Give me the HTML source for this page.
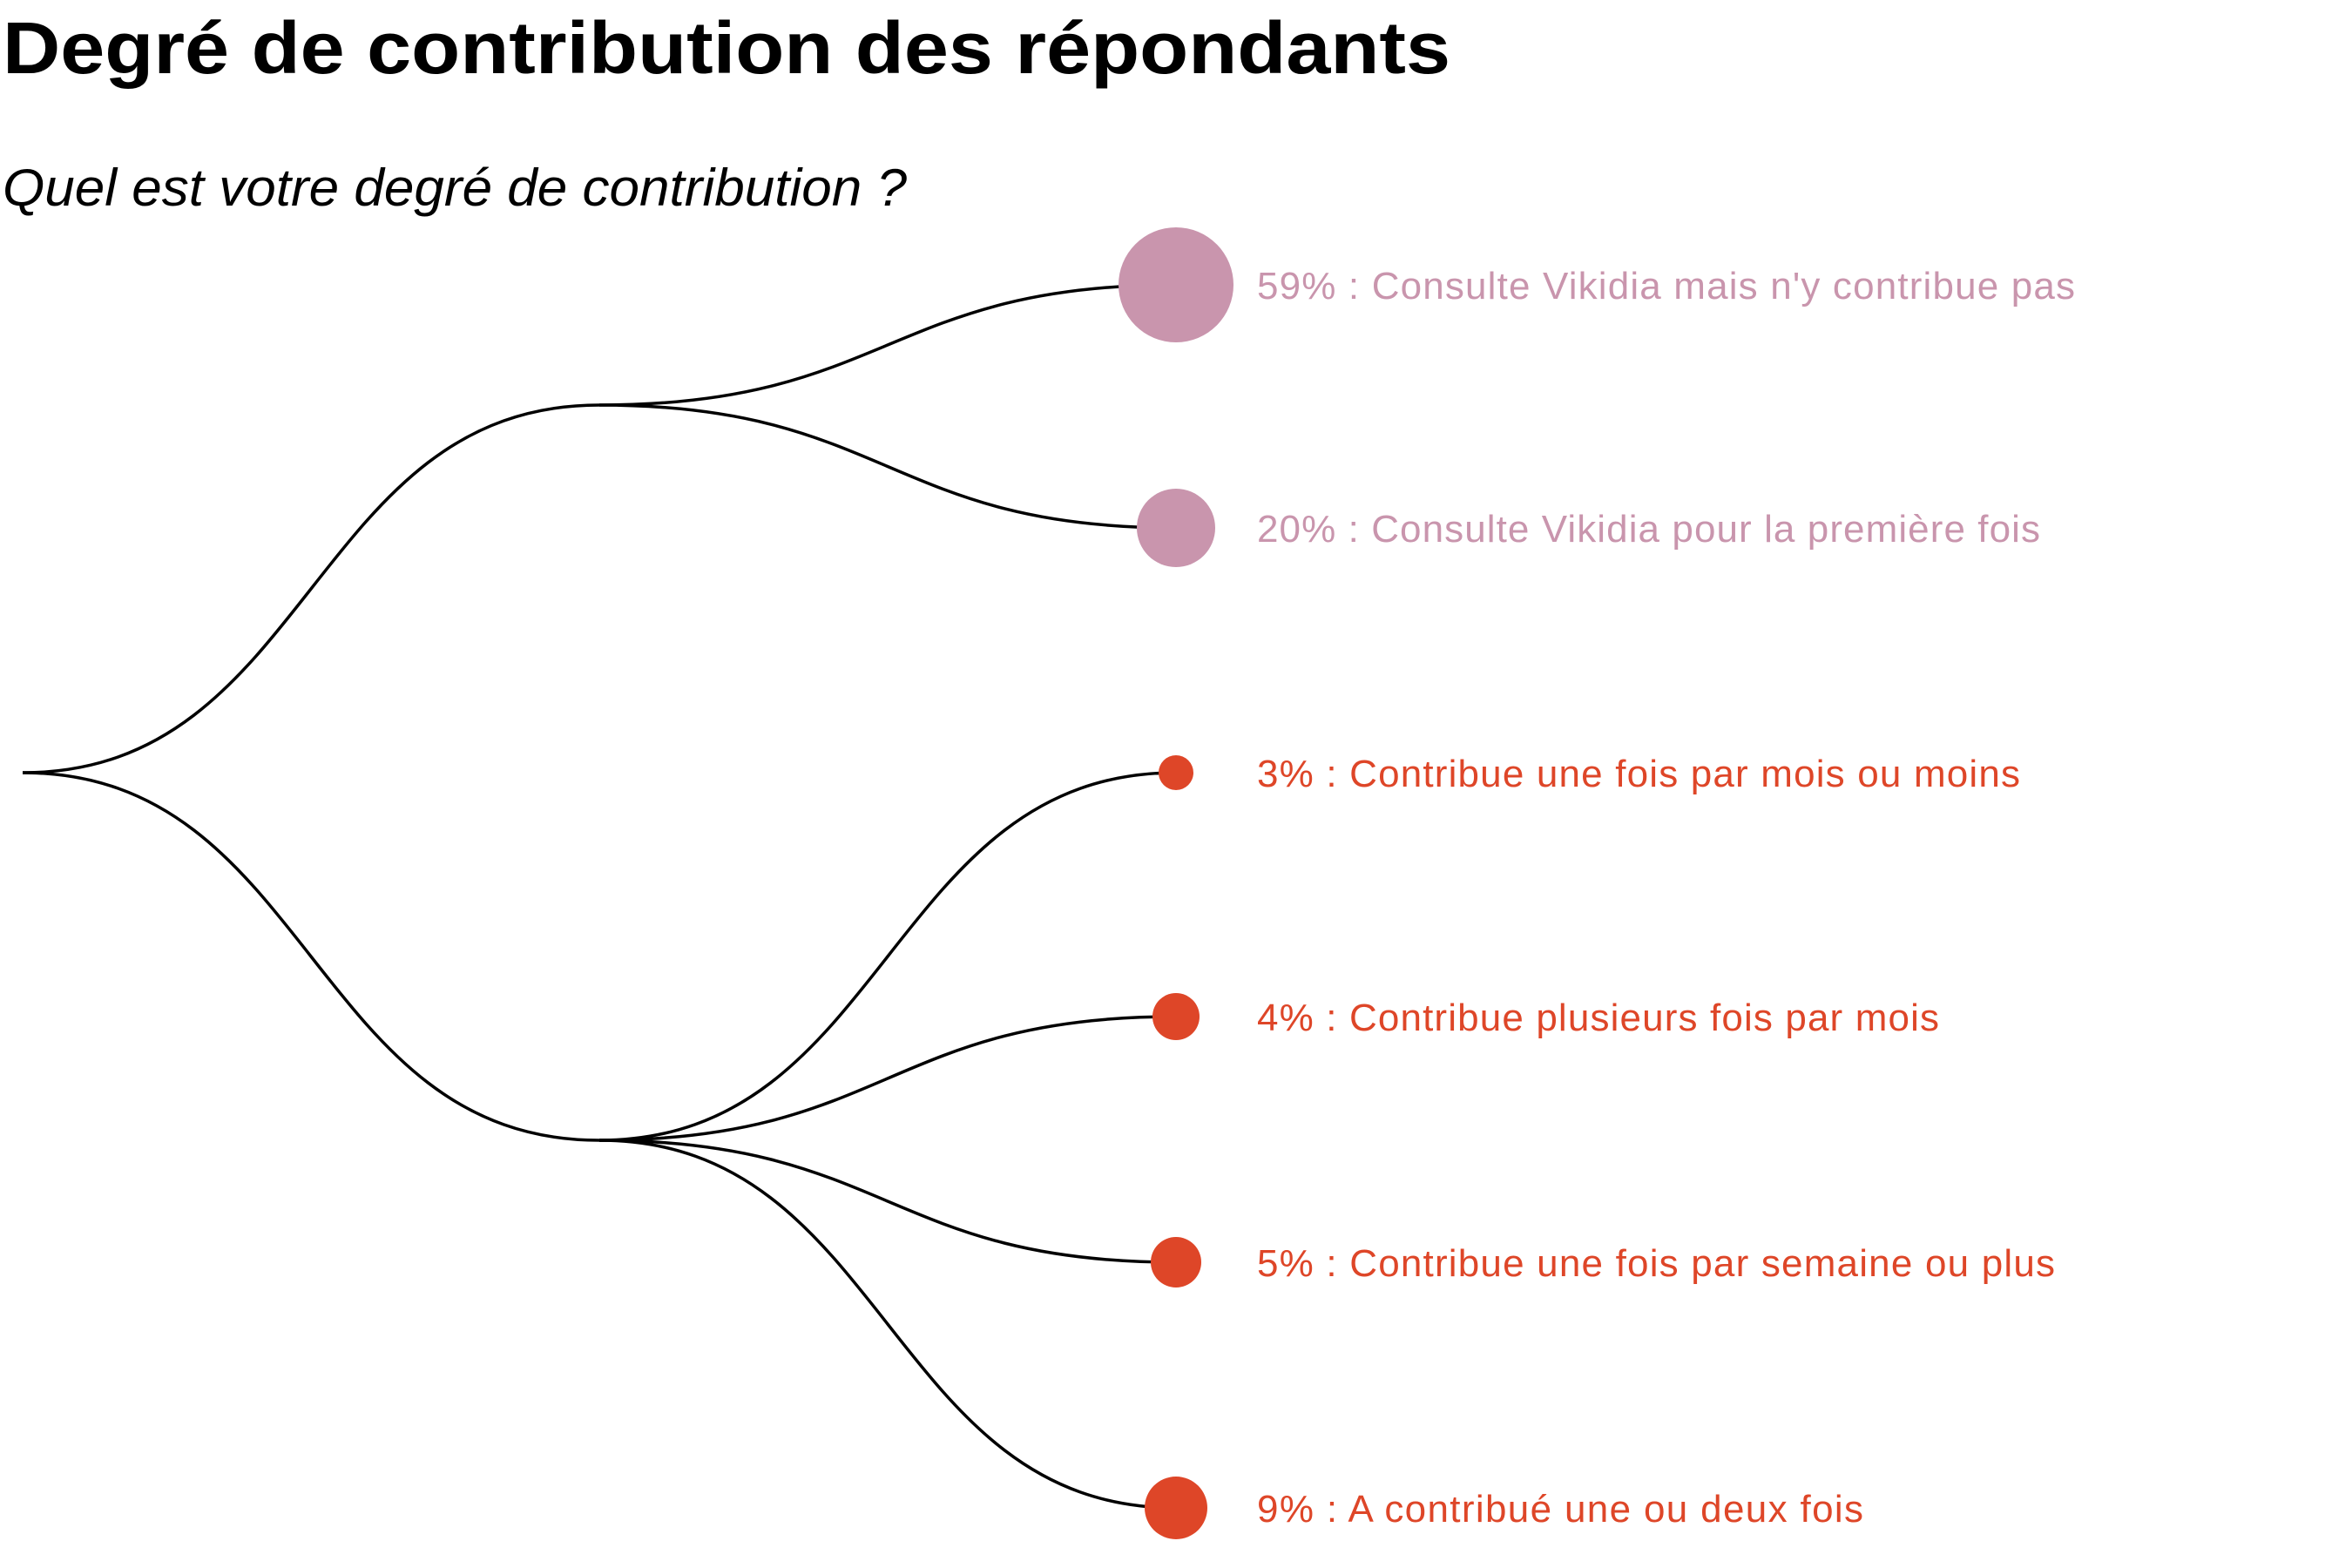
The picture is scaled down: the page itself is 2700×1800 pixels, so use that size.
<!DOCTYPE html>
<html><head><meta charset="utf-8"><style>html,body{margin:0;padding:0;background:#fff;}svg{display:block}</style></head>
<body>
<svg width="2700" height="1800" viewBox="0 0 2700 1800" xmlns="http://www.w3.org/2000/svg">
<text x="3" y="84" font-family="Liberation Sans, sans-serif" font-weight="bold" font-size="84" textLength="1662" lengthAdjust="spacingAndGlyphs">Degré de contribution des répondants</text>
<text x="3" y="236" font-family="Liberation Sans, sans-serif" font-style="italic" font-size="60" textLength="1038" lengthAdjust="spacingAndGlyphs">Quel est votre degré de contribution ?</text>
<g fill="none" stroke="#000" stroke-width="3.5">
<path d="M26 887 C357 887,357 465,688 465"/>
<path d="M26 887 C357 887,357 1309,688 1309"/>
<path d="M688 465 C1019 465,1019 327,1350 327"/>
<path d="M688 465 C1019 465,1019 606,1350 606"/>
<path d="M688 1309 C1019 1309,1019 887,1350 887"/>
<path d="M688 1309 C1019 1309,1019 1167,1350 1167"/>
<path d="M688 1309 C1019 1309,1019 1449,1350 1449"/>
<path d="M688 1309 C1019 1309,1019 1731,1350 1731"/>
</g>
<g fill="#c995ad"><circle cx="1350" cy="327" r="66"/><circle cx="1350" cy="606" r="45"/></g>
<g fill="#de4628"><circle cx="1350" cy="887" r="20"/><circle cx="1350" cy="1167" r="27"/><circle cx="1350" cy="1449" r="29"/><circle cx="1350" cy="1731" r="36"/></g>
<g font-family="Liberation Sans, sans-serif" font-size="44" lengthAdjust="spacingAndGlyphs">
<text x="1443" y="343" fill="#c995ad" textLength="939">59% : Consulte Vikidia mais n'y contribue pas</text>
<text x="1443" y="622" fill="#c995ad" textLength="899">20% : Consulte Vikidia pour la première fois</text>
<text x="1443" y="903" fill="#de4628" textLength="876">3% : Contribue une fois par mois ou moins</text>
<text x="1443" y="1183" fill="#de4628" textLength="783">4% : Contribue plusieurs fois par mois</text>
<text x="1443" y="1465" fill="#de4628" textLength="916">5% : Contribue une fois par semaine ou plus</text>
<text x="1443" y="1747" fill="#de4628" textLength="696">9% : A contribué une ou deux fois</text>
</g>
</svg>
</body></html>
